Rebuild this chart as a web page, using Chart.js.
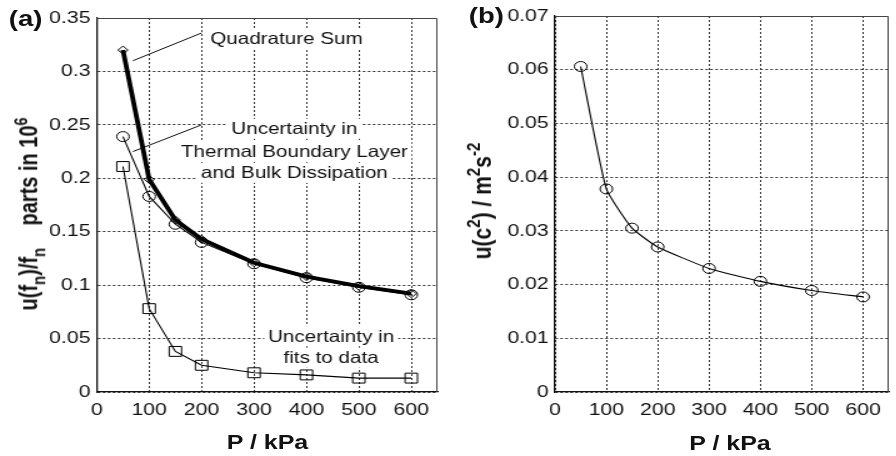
<!DOCTYPE html>
<html>
<head>
<meta charset="utf-8">
<script src="https://cdn.jsdelivr.net/npm/chart.js@4/dist/chart.umd.min.js"></script>
<style>
html,body{margin:0;padding:0;background:#fff;overflow:hidden}
/* the original figure is stretched sideways, so the whole thing is drawn narrow and scaled */
#fig{position:absolute;left:0;top:0;width:717px;height:456px;transform:scaleX(1.25);transform-origin:0 0;font-family:"Liberation Sans",Arial,sans-serif;color:#111}
canvas{position:absolute;top:0}
.lbl{position:absolute;font-weight:bold;white-space:nowrap;line-height:1}
.xtitle{position:absolute;font-weight:bold;white-space:nowrap;line-height:1;font-size:20px;transform:translate(-50%,-50%)}
.ytitle{position:absolute;font-weight:bold;white-space:nowrap;line-height:1;font-size:20px;transform:translate(-50%,-50%) rotate(-90deg)}
sub{font-size:75%;vertical-align:-0.4em;line-height:0}
sup{font-size:72%;vertical-align:0.55em;line-height:0}
</style>
</head>
<body>
<div id="fig">
<canvas id="chartA" width="358" height="456" style="left:0"></canvas>
<canvas id="chartB" width="359" height="456" style="left:358px"></canvas>

<div class="lbl" style="left:7px;top:8px;font-size:22px">(a)</div>
<div class="lbl" style="left:375px;top:5px;font-size:22px">(b)</div>

<div class="ytitle" style="left:23px;top:214px">u(f<sub>n</sub>)/f<sub>n</sub>&nbsp;&nbsp;&nbsp;&nbsp;parts in 10<sup>6</sup></div>
<div class="ytitle" style="left:385px;top:201px;font-size:21px">u(c<sup>2</sup>) / m<sup>2</sup>s<sup>-2</sup></div>

<div class="xtitle" style="left:214px;top:442px">P / kPa</div>
<div class="xtitle" style="left:584px;top:443px">P / kPa</div>
</div>

<script>
/* ================================
   DATA
================================ */

const pressure = [50,100,150,200,300,400,500,600]

// panel (a), parts in 10^6
const quadratureSum = [0.320,0.199,0.161,0.143,0.121,0.108,0.099,0.092]
const thermalUnc = [0.239,0.183,0.157,0.140,0.120,0.107,0.098,0.091]
const fitUnc = [0.211,0.078,0.038,0.025,0.018,0.016,0.013,0.013]

// panel (b), m^2 s^-2
const speedSqUnc = [0.0606,0.0378,0.0305,0.0270,0.0230,0.0206,0.0189,0.0177]

const xTicks = [0,100,200,300,400,500,600]
const yTicksA = [0,0.05,0.1,0.15,0.2,0.25,0.3,0.35]
const yTicksB = [0,0.01,0.02,0.03,0.04,0.05,0.06,0.07]

Chart.defaults.font.family = '"Liberation Sans", Arial, sans-serif'
Chart.defaults.font.size = 17
Chart.defaults.color = "#111"

function pts(ys){
return pressure.map((p,i)=>({x:p,y:ys[i]}))
}

function fmt(v){
return String(parseFloat(v.toFixed(3)))
}

/* frame on top and right */
const framePlugin = {
id:"frame",
beforeDatasetsDraw(chart){
const a = chart.chartArea
const ctx = chart.ctx
ctx.save()
ctx.strokeStyle = "#444"
ctx.lineWidth = 1
ctx.beginPath()
ctx.moveTo(a.left,a.top+0.5)
ctx.lineTo(a.right-0.5,a.top+0.5)
ctx.lineTo(a.right-0.5,a.bottom)
ctx.stroke()
ctx.restore()
}
}

/* text notes of panel (a), placed in data units */
const notes = [
{lines:["Quadrature Sum"], x:362, y:[0.331]},
{lines:["Uncertainty in","Thermal Boundary Layer","and Bulk Dissipation"], x:377, y:[0.2463,0.2248,0.2051]},
{lines:["Uncertainty in","fits to data"], x:447, y:[0.0522,0.0321]}
]
const leaders = [
[69,0.310,200,0.336],
[69,0.225,200,0.250]
]

const notesPlugin = {
id:"notes",
beforeDatasetsDraw(chart){
const xs = chart.scales.x
const ys = chart.scales.y
const ctx = chart.ctx
ctx.save()
ctx.font = '16.5px "Liberation Sans", Arial, sans-serif'
ctx.textAlign = "center"
ctx.textBaseline = "middle"
notes.forEach(n=>{
n.lines.forEach((t,i)=>{
const px = xs.getPixelForValue(n.x)
const py = ys.getPixelForValue(n.y[i])
const w = ctx.measureText(t).width
ctx.fillStyle = "#fff"
ctx.fillRect(px-w/2-3,py-10,w+6,20)
ctx.fillStyle = "#111"
ctx.fillText(t,px,py+1)
})
})
ctx.strokeStyle = "#111"
ctx.lineWidth = 1
leaders.forEach(l=>{
ctx.beginPath()
ctx.moveTo(xs.getPixelForValue(l[0]),ys.getPixelForValue(l[1]))
ctx.lineTo(xs.getPixelForValue(l[2]),ys.getPixelForValue(l[3]))
ctx.stroke()
})
ctx.restore()
}
}

function axes(yMax,yTicks,yWidth){
return {
x:{
type:"linear",min:0,max:650,
afterBuildTicks:s=>{ s.ticks = xTicks.map(v=>({value:v})) },
afterFit:s=>{ s.height = 64 },
grid:{color:"#333",lineWidth:1,drawTicks:false},
border:{color:"#111",width:1.3,dash:[2,2]},
ticks:{padding:8,maxRotation:0,callback:v=>fmt(v)}
},
y:{
type:"linear",min:0,max:yMax,
afterBuildTicks:s=>{ s.ticks = yTicks.map(v=>({value:v})) },
afterFit:s=>{ s.width = yWidth },
grid:{color:"#333",lineWidth:1,drawTicks:false},
border:{color:"#111",width:1.3,dash:[2,2]},
ticks:{padding:5,callback:v=>fmt(v)}
}
}
}

const common = {
responsive:false,
animation:false,
events:[],
plugins:{legend:{display:false},tooltip:{enabled:false}}
}

/* ================================
   PANEL (a)
================================ */

new Chart(
document.getElementById("chartA"),
{
type:"line",
data:{
datasets:[
{
label:"Quadrature Sum",
data:pts(quadratureSum),
borderColor:"#000",
borderWidth:3.8,
pointStyle:"rectRot",
pointRadius:4,
pointBorderWidth:1,
pointBorderColor:"#000",
pointBackgroundColor:"transparent",
tension:0
},
{
label:"Thermal boundary layer and bulk dissipation",
data:pts(thermalUnc),
borderColor:"#000",
borderWidth:1.1,
pointStyle:"circle",
pointRadius:5,
pointBorderWidth:1,
pointBorderColor:"#000",
pointBackgroundColor:"transparent",
tension:0
},
{
label:"Fits to data",
data:pts(fitUnc),
borderColor:"#000",
borderWidth:1.1,
pointStyle:"rect",
pointRadius:7,
pointBorderWidth:1,
pointBorderColor:"#000",
pointBackgroundColor:"transparent",
tension:0
}
]
},
options:{
...common,
layout:{padding:{left:0,right:7.5,top:18,bottom:0}},
scales:axes(0.35,yTicksA,77.4)
},
plugins:[framePlugin,notesPlugin]
})

/* ================================
   PANEL (b)
================================ */

new Chart(
document.getElementById("chartB"),
{
type:"line",
data:{
datasets:[{
label:"u(c^2)",
data:pts(speedSqUnc),
borderColor:"#000",
borderWidth:1.1,
pointStyle:"circle",
pointRadius:5,
pointBorderWidth:1,
pointBorderColor:"#000",
pointBackgroundColor:"transparent",
tension:0.15
}]
},
options:{
...common,
layout:{padding:{left:0,right:1,top:16,bottom:0}},
scales:axes(0.07,yTicksB,86)
},
plugins:[framePlugin]
})
</script>
</body>
</html>
